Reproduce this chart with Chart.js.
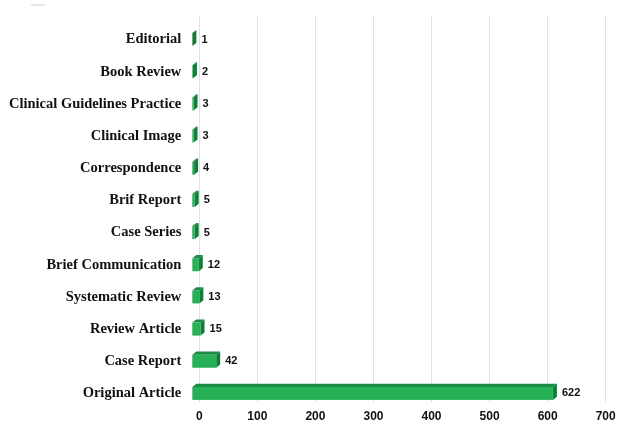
<!DOCTYPE html>
<html>
<head>
<meta charset="utf-8">
<script src="https://cdn.jsdelivr.net/npm/chart.js@4/dist/chart.umd.min.js"></script>
<style>
  html, body { margin: 0; padding: 0; background: #ffffff; }
  #wrap { width: 619px; height: 423px; position: relative; }
</style>
</head>
<body>
<div id="wrap"><canvas id="c" width="619" height="423"></canvas></div>
<script>
const categories = [
  "Editorial", "Book Review", "Clinical Guidelines Practice", "Clinical Image",
  "Correspondence", "Brif Report", "Case Series", "Brief Communication",
  "Systematic Review", "Review Article", "Case Report", "Original Article"
];
const counts = [1, 2, 3, 3, 4, 5, 5, 12, 13, 15, 42, 622];
const xTicks = [0, 100, 200, 300, 400, 500, 600, 700];

const FRONT = '#27b157';
const TOP = '#1b8a45';
const SIDE = '#157a3a';
const SY = 7.5;

const bar3d = {
  id: 'bar3d',
  afterDatasetsDraw(chart) {
    const ctx = chart.ctx;
    const meta = chart.getDatasetMeta(0);
    const sx = -7.5, sy = SY, dx = 4, dy = 3.2;
    ctx.save();
    meta.data.forEach((el, i) => {
      const p = el.getProps(['x', 'y', 'base', 'height'], true);
      const h = 13;
      const l = p.base + sx;
      const r = p.x + sx;
      const t = p.y - h / 2 + sy;
      const b = p.y + h / 2 + sy;
      ctx.fillStyle = TOP;
      ctx.beginPath();
      ctx.moveTo(l, t);
      ctx.lineTo(l + dx, t - dy);
      ctx.lineTo(r + dx, t - dy);
      ctx.lineTo(r, t);
      ctx.closePath();
      ctx.fill();
      ctx.fillStyle = SIDE;
      ctx.beginPath();
      ctx.moveTo(r, t);
      ctx.lineTo(r + dx, t - dy);
      ctx.lineTo(r + dx, b - dy);
      ctx.lineTo(r, b);
      ctx.closePath();
      ctx.fill();
      ctx.fillStyle = FRONT;
      ctx.fillRect(l, t, r - l, b - t);
      ctx.fillStyle = '#111111';
      ctx.font = 'bold 11px "Liberation Sans", Arial, sans-serif';
      ctx.textAlign = 'left';
      ctx.textBaseline = 'middle';
      ctx.fillText(String(counts[i]), r + dx + 5, (t + b) / 2);
    });
    ctx.restore();
    ctx.save();
    ctx.fillStyle = '#e6e6e6';
    ctx.fillRect(31, 4, 14, 2);
    ctx.restore();
  }
};

new Chart(document.getElementById('c'), {
  type: 'bar',
  data: {
    labels: categories,
    datasets: [{
      data: counts,
      backgroundColor: 'rgba(0,0,0,0)',
      borderWidth: 0,
      barPercentage: 0.5,
      categoryPercentage: 0.8
    }]
  },
  options: {
    indexAxis: 'y',
    responsive: false,
    animation: false,
    devicePixelRatio: 1,
    layout: { padding: { left: 0, right: 13.3, top: 16, bottom: 0 } },
    plugins: {
      legend: { display: false },
      tooltip: { enabled: false }
    },
    scales: {
      x: {
        min: 0,
        max: 700,
        afterBuildTicks: (axis) => { axis.ticks = xTicks.map(v => ({ value: v })); },
        afterFit: (axis) => {
          axis.height = 21;
          axis.paddingLeft = 0; axis.paddingRight = 0;
          axis.paddingTop = 0; axis.paddingBottom = 0;
        },
        grid: { color: '#e2e2e2', lineWidth: 1, drawTicks: false },
        border: { display: false },
        ticks: {
          padding: 9,
          color: '#111111',
          font: { family: '"Liberation Sans", Arial, sans-serif', size: 12, weight: 'bold', lineHeight: 1 }
        }
      },
      y: {
        afterFit: (axis) => {
          axis.width = 199.3;
          axis.paddingLeft = 0; axis.paddingRight = 0;
          axis.paddingTop = 0; axis.paddingBottom = 0;
        },
        grid: { display: false, drawTicks: false },
        border: { display: false },
        ticks: {
          padding: 18,
          labelOffset: SY,
          color: '#111111',
          font: { family: '"Liberation Serif", "Times New Roman", serif', size: 14.5, weight: 'bold' }
        }
      }
    }
  },
  plugins: [bar3d]
});
</script>
</body>
</html>
